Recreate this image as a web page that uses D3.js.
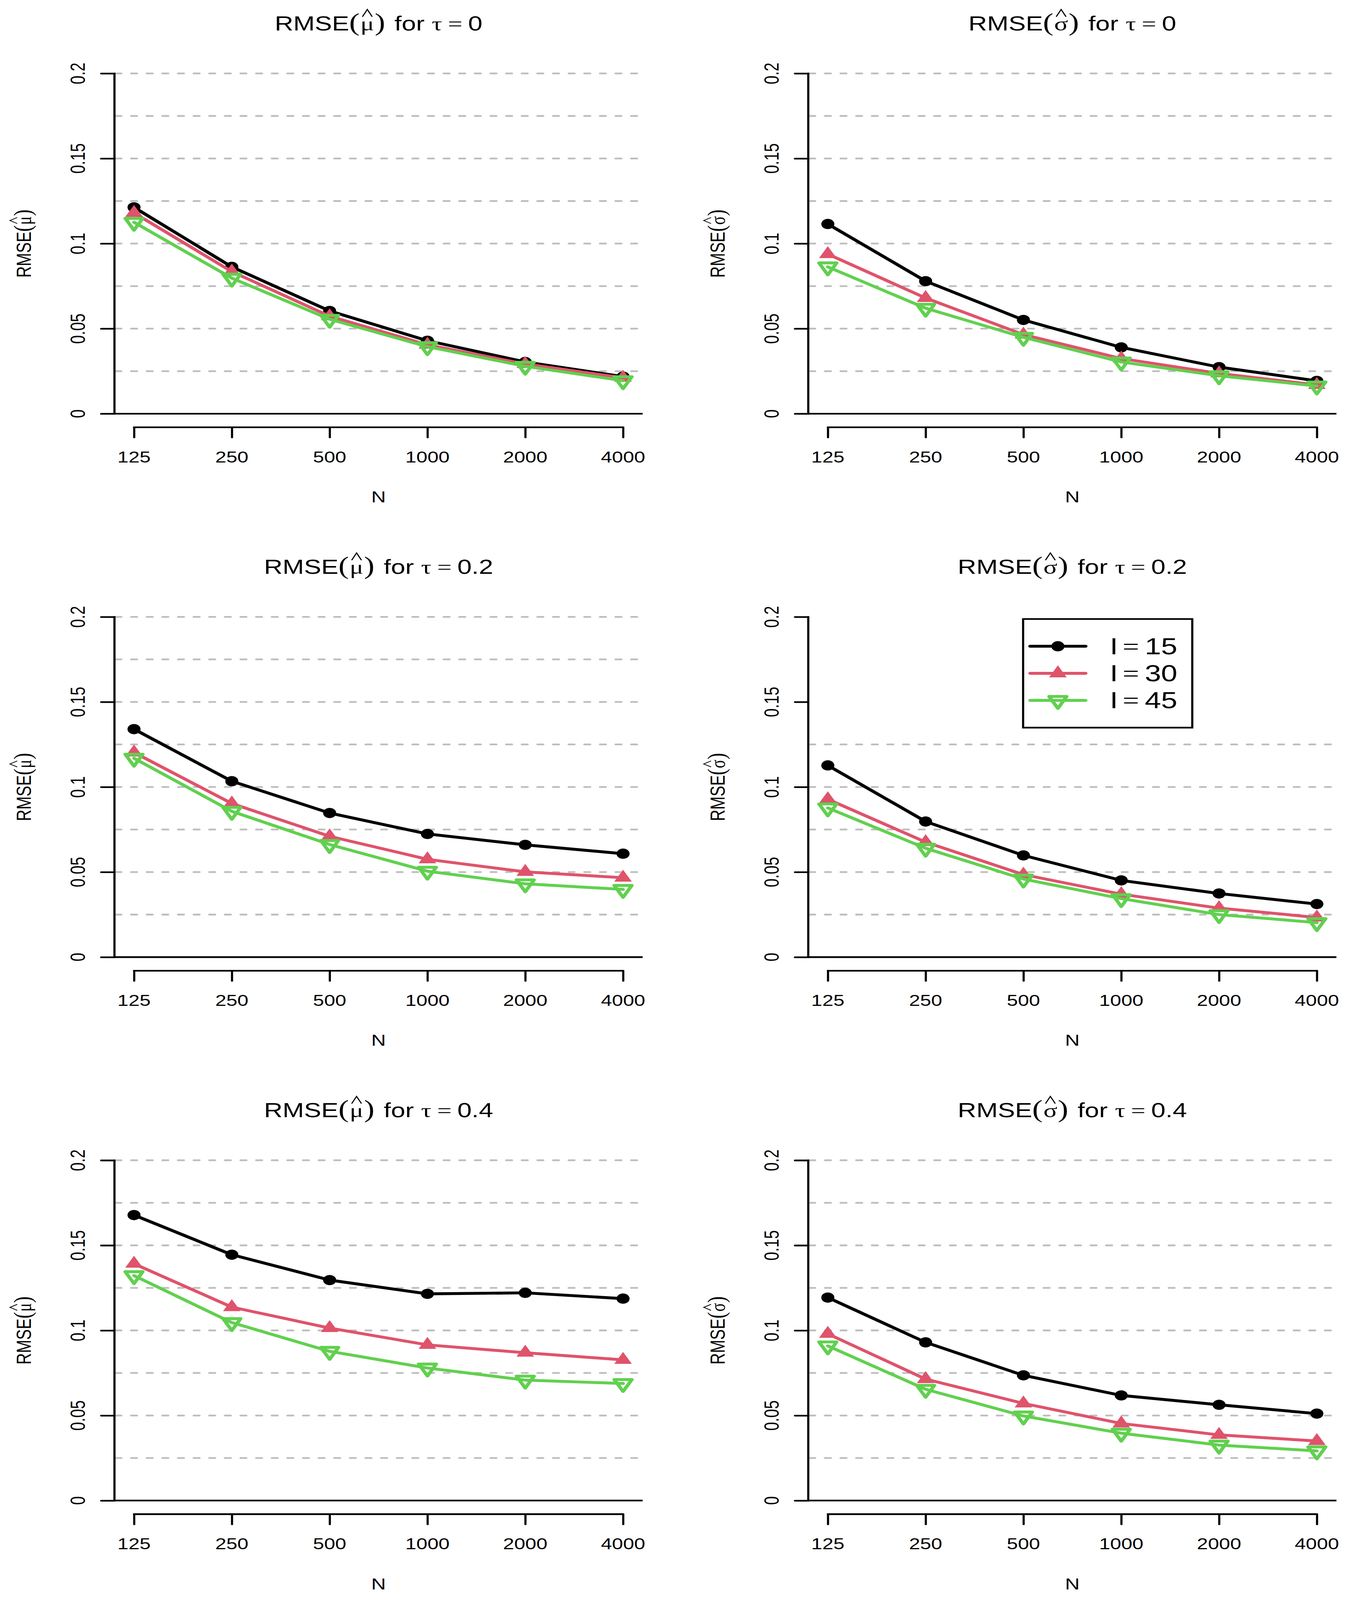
<!DOCTYPE html>
<html>
<head>
<meta charset="utf-8">
<script src="https://cdn.jsdelivr.net/npm/d3@7"></script>
<style>
  html, body { margin: 0; padding: 0; background: #fff; overflow: hidden; }
  svg { display: block; }
  text { font-family: "Liberation Sans", Arial, sans-serif; fill: #000; }
</style>
</head>
<body>
<svg id="fig"></svg>
<script>
// sample sizes on the x axis (equally spaced categories)
const Ns = ["125", "250", "500", "1000", "2000", "4000"];
const legendLabels = ["15", "30", "45"];          // I = ...
const yTicks = [0, 0.05, 0.1, 0.15, 0.2];
const yTickLabels = ["0", "0.05", "0.1", "0.15", "0.2"];
const gridVals = [0.025, 0.05, 0.075, 0.1, 0.125, 0.15, 0.175, 0.2];

// RMSE values: rows = I=15, I=30, I=45
const muTau0 = [
  [0.1213, 0.0863, 0.0604, 0.0429, 0.0304, 0.0218],
  [0.1180, 0.0835, 0.0573, 0.0405, 0.0292, 0.0211],
  [0.1125, 0.0797, 0.0555, 0.0394, 0.0279, 0.0194]
];
const sigmaTau0 = [
  [0.1115, 0.0779, 0.0551, 0.0390, 0.0274, 0.0193],
  [0.0938, 0.0680, 0.0465, 0.0324, 0.0237, 0.0169],
  [0.0863, 0.0620, 0.0449, 0.0304, 0.0223, 0.0163]
];
const muTau02 = [
  [0.1340, 0.1034, 0.0847, 0.0724, 0.0660, 0.0608],
  [0.1203, 0.0903, 0.0710, 0.0575, 0.0501, 0.0467],
  [0.1169, 0.0857, 0.0662, 0.0505, 0.0431, 0.0398]
];
const sigmaTau02 = [
  [0.1127, 0.0797, 0.0598, 0.0451, 0.0374, 0.0312],
  [0.0928, 0.0676, 0.0485, 0.0370, 0.0288, 0.0233],
  [0.0877, 0.0640, 0.0459, 0.0344, 0.0250, 0.0203]
];
const muTau04 = [
  [0.1678, 0.1445, 0.1296, 0.1215, 0.1221, 0.1187],
  [0.1392, 0.1137, 0.1014, 0.0915, 0.0869, 0.0827],
  [0.1322, 0.1046, 0.0877, 0.0779, 0.0708, 0.0688]
];
const sigmaTau04 = [
  [0.1193, 0.0930, 0.0736, 0.0618, 0.0563, 0.0511],
  [0.0980, 0.0714, 0.0571, 0.0453, 0.0386, 0.0350],
  [0.0909, 0.0654, 0.0497, 0.0396, 0.0326, 0.0292]
];

const panelSymbol = ["\u03BC", "\u03C3", "\u03BC", "\u03C3", "\u03BC", "\u03C3"];
const panelTau = ["0", "0", "0.2", "0.2", "0.4", "0.4"];
const panelValues = [muTau0, sigmaTau0, muTau02, sigmaTau02, muTau04, sigmaTau04];
const legendPanel = 3;

const colors = ["#000000", "#DF536B", "#61D04F"];

// layout (drawn in a 3466 x 5229 frame, stretched to whatever window we get)
const W = 3466, H = 5229;
const cell = 1776;
const plot = { left: 293, right: 1645, top: 195.5, bottom: 1396.5 };
const lwdAxis = 5.5, lwdLine = 9.5, lwdGrid = 5.8;
const axisFont = 51, titleFont = 66, legendFont = 75;
const xc = 16.7;                 // R symbol radius

const svg = d3.select("#fig")
  .attr("width", window.innerWidth || W)
  .attr("height", window.innerHeight || H)
  .attr("viewBox", `0 0 ${W} ${H}`)
  .attr("preserveAspectRatio", "none");
svg.append("rect").attr("width", W).attr("height", H).attr("fill", "#fff");

const x = d3.scalePoint().domain(Ns).range([plot.left, plot.right]).padding(0.2);
const y = d3.scaleLinear().domain([-0.008, 0.208]).range([plot.bottom, plot.top]);

const SANS = "'Liberation Sans', Arial, sans-serif";
const SERIF = "'Liberation Serif', 'DejaVu Serif', serif";

// lay out a little plotmath-like expression, anchored at (0,0) baseline
function mathText(parent, parts, size, anchor) {
  const outer = parent.append("g");
  const g = outer.append("g");
  let cx = 0;
  const hats = [];
  parts.forEach(p => {
    const fs = size * (p.scale || 1);
    cx += (p.gap || 0) * size;
    const t = g.append("text")
      .attr("x", cx).attr("y", 0)
      .style("font-family", p.serif ? SERIF : SANS)
      .style("font-size", fs + "px")
      .text(p.s);
    const w = t.node().getComputedTextLength();
    if (p.hat) hats.push(cx + w / 2);
    cx += w;
  });
  hats.forEach(hx => {
    g.append("path")
      .attr("d", `M${hx - 0.19 * size},${-0.67 * size} L${hx},${-1.03 * size} L${hx + 0.19 * size},${-0.67 * size}`)
      .attr("fill", "none")
      .attr("stroke", "#000")
      .attr("stroke-width", size * 0.045);
  });
  const shift = anchor === "middle" ? -cx / 2 : anchor === "end" ? -cx : 0;
  g.attr("transform", `translate(${shift},0)`);
  return outer;
}

function rmseParts(sym) {
  return [
    { s: "RMSE" },
    { s: "(", serif: true, scale: 1.22 },
    { s: sym, serif: true, hat: true, gap: 0.03 },
    { s: ")", serif: true, scale: 1.22, gap: 0.02 }
  ];
}

function triPath(cx, cy, up) {
  const r = 1.5551 * xc, h = 1.3468 * xc, b = 0.7776 * xc;
  const s = up ? 1 : -1;
  return `M${cx},${cy - s * r} L${cx + h},${cy + s * b} L${cx - h},${cy + s * b} Z`;
}

function drawMarker(g, k, cx, cy) {
  if (k === 0) {
    g.append("circle").attr("cx", cx).attr("cy", cy).attr("r", xc).attr("fill", colors[0]);
  } else if (k === 1) {
    g.append("path").attr("d", triPath(cx, cy, true)).attr("fill", colors[1]);
  } else {
    g.append("path").attr("d", triPath(cx, cy, false))
      .attr("fill", "none").attr("stroke", colors[2])
      .attr("stroke-width", lwdLine).attr("stroke-linejoin", "round");
  }
}

const line = d3.line().x((d, i) => x(Ns[i])).y(d => y(d));

panelValues.forEach((vals, pi) => {
  const col = pi % 2, row = Math.floor(pi / 2);
  const g = svg.append("g").attr("transform", `translate(${col * cell},${row * cell})`);

  // dashed grid
  const grid = pi === legendPanel ? gridVals.filter(v => v <= 0.125) : gridVals;
  g.selectAll("line.grid").data(grid).join("line")
    .attr("class", "grid")
    .attr("x1", plot.left + 3).attr("x2", plot.right)
    .attr("y1", d => y(d)).attr("y2", d => y(d))
    .attr("stroke", "#BEBEBE").attr("stroke-width", lwdGrid)
    .attr("stroke-dasharray", "14.5,25.5").attr("stroke-linecap", "round");

  // zero line
  g.append("line")
    .attr("x1", plot.left).attr("x2", plot.right)
    .attr("y1", y(0)).attr("y2", y(0))
    .attr("stroke", "#000").attr("stroke-width", lwdAxis);

  // y axis
  const yAxis = g.append("g").attr("transform", `translate(${plot.left},0)`)
    .call(d3.axisLeft(y).tickValues(yTicks).tickSize(34).tickSizeOuter(0).tickFormat(""));
  yAxis.select(".domain").attr("d", `M0,${y(0.2)}V${y(0)}`);
  yAxis.selectAll("path, line").attr("stroke", "#000").attr("stroke-width", lwdAxis).attr("stroke-linecap", "round");
  g.selectAll("text.ytick").data(yTicks).join("text")
    .attr("class", "ytick")
    .attr("transform", (d) => `translate(217,${y(d)}) rotate(-90)`)
    .attr("text-anchor", "middle")
    .style("font-size", axisFont + "px")
    .text((d, i) => yTickLabels[i]);

  // x axis
  const xAxis = g.append("g").attr("transform", `translate(0,${plot.bottom})`)
    .call(d3.axisBottom(x).tickSize(33).tickSizeOuter(0).tickFormat(""));
  xAxis.select(".domain").attr("d", `M${x(Ns[0])},0H${x(Ns[Ns.length - 1])}`);
  xAxis.selectAll("path, line").attr("stroke", "#000").attr("stroke-width", lwdAxis).attr("stroke-linecap", "round");
  g.selectAll("text.xtick").data(Ns).join("text")
    .attr("class", "xtick")
    .attr("x", d => x(d)).attr("y", 1511)
    .attr("text-anchor", "middle")
    .style("font-size", axisFont + "px")
    .text(d => d);

  g.append("text")
    .attr("x", (plot.left + plot.right) / 2).attr("y", 1642)
    .attr("text-anchor", "middle")
    .style("font-size", (axisFont + 1) + "px")
    .text("N");

  // y label
  mathText(g, rmseParts(panelSymbol[pi]), axisFont + 1, "middle")
    .attr("transform", `translate(79,${(plot.top + plot.bottom) / 2}) rotate(-90)`);

  // title
  const titleParts = rmseParts(panelSymbol[pi]).concat([
    { s: "for", gap: 0.36 },
    { s: "\u03C4", serif: true, gap: 0.28 },
    { s: "=", serif: true, gap: 0.22 },
    { s: panelTau[pi], gap: 0.22 }
  ]);
  mathText(g, titleParts, titleFont, "middle")
    .attr("transform", `translate(${(plot.left + plot.right) / 2},99)`);

  // series
  vals.forEach((s, k) => {
    g.append("path").datum(s)
      .attr("d", line)
      .attr("fill", "none")
      .attr("stroke", colors[k])
      .attr("stroke-width", lwdLine)
      .attr("stroke-linejoin", "round")
      .attr("stroke-linecap", "round");
    s.forEach((v, i) => drawMarker(g, k, x(Ns[i]), y(v)));
  });

  // legend
  if (pi === legendPanel) {
    const lg = g.append("g");
    lg.append("rect")
      .attr("x", 843).attr("y", 247).attr("width", 433).attr("height", 355)
      .attr("fill", "#fff").attr("stroke", "#000").attr("stroke-width", lwdAxis);
    legendLabels.forEach((lab, k) => {
      const ry = 336 + k * 88.5;
      lg.append("line")
        .attr("x1", 861).attr("x2", 1003).attr("y1", ry).attr("y2", ry)
        .attr("stroke", colors[k]).attr("stroke-width", lwdLine).attr("stroke-linecap", "round");
      drawMarker(lg, k, 932, ry);
      mathText(lg, [
        { s: "I" },
        { s: "=", serif: true, gap: 0.16 },
        { s: lab, gap: 0.19 }
      ], legendFont, "start")
        .attr("transform", `translate(1065,${ry + 26})`);
    });
  }
});
</script>
</body>
</html>
